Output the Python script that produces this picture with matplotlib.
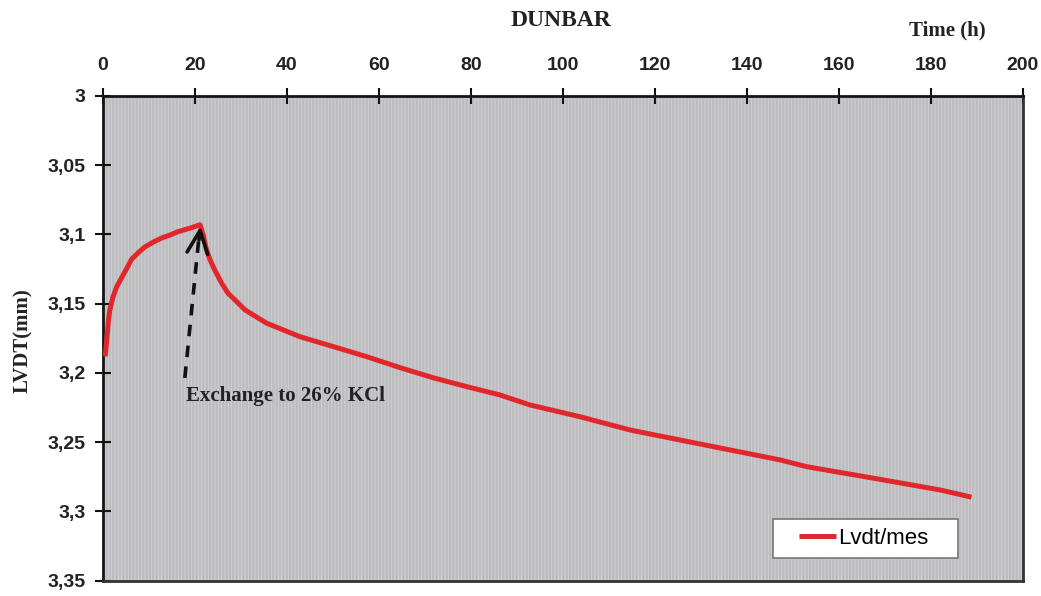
import numpy as np
import matplotlib
matplotlib.use('Agg')
import matplotlib.pyplot as plt
from matplotlib.patches import Rectangle
from matplotlib.legend_handler import HandlerLine2D

# data (time in h, LVDT in mm)
time_h = [0.5, 1.2, 1.5, 2.2, 3.0, 4.1, 5.2, 6.2, 7.7, 9.1, 10.9, 12.8, 14.6,
          16.3, 18.9, 21.1,
          21.8, 22.5, 23.3, 24.3, 25.8, 27.2, 28.7, 30.9, 32.3, 35.6, 42.8,
          50.1, 57.3, 64.6, 71.8, 79.1, 86.3, 92.8, 103.7, 114.6, 125.4,
          136.3, 147.2, 153.0, 167.5, 182.0, 188.8]
lvdt_mm = [3.188, 3.162, 3.1545, 3.145, 3.1377, 3.131, 3.1244, 3.118, 3.1131,
           3.109, 3.1056, 3.1025, 3.1004, 3.098, 3.0955, 3.093,
           3.1004, 3.111, 3.1184, 3.1256, 3.1352, 3.1425, 3.1473, 3.1545,
           3.1574, 3.1641, 3.1738,
           3.181, 3.1882, 3.1962, 3.2035, 3.2099, 3.2159, 3.2231, 3.2316,
           3.2412, 3.2484, 3.2556, 3.2628, 3.2677, 3.276, 3.2845, 3.2897]

x_ticks = [0, 20, 40, 60, 80, 100, 120, 140, 160, 180, 200]
y_ticks = [3.0, 3.05, 3.1, 3.15, 3.2, 3.25, 3.3, 3.35]
y_labels = ['3', '3,05', '3,1', '3,15', '3,2', '3,25', '3,3', '3,35']

serif = 'Liberation Serif'
sans = 'Liberation Sans'

matplotlib.rcParams['hatch.linewidth'] = 0.6

fig = plt.figure(figsize=(10.41, 5.96), dpi=100)
ax = fig.add_axes([0.0989, 0.0257, 0.8838, 0.8133])

# grey striped background
ax.set_facecolor('#bdbdc1')
ax.add_patch(Rectangle((0, 0), 1, 1, transform=ax.transAxes, facecolor='none',
                       edgecolor='#d3d3d6', hatch='|||||', lw=0, zorder=0))

line, = ax.plot(time_h, lvdt_mm, color='#e0282c', lw=3.6, label='Lvdt/mes',
                solid_capstyle='butt', solid_joinstyle='round', zorder=3)

ax.set_xlim(0, 200)
ax.set_ylim(3.35, 3.0)
ax.xaxis.tick_top()
ax.set_xticks(x_ticks)
ax.set_yticks(y_ticks)
ax.set_yticklabels(y_labels)
ax.tick_params(axis='both', direction='inout', length=11, width=1.5, colors='#111111')
ax.tick_params(axis='x', pad=10)
ax.tick_params(axis='y', pad=7)
for lab in ax.get_xticklabels() + ax.get_yticklabels():
    lab.set_fontfamily(sans)
    lab.set_fontweight('bold')
    lab.set_fontsize(14)
    lab.set_color('#222222')

for side in ['top', 'left']:
    ax.spines[side].set_linewidth(2.0)
    ax.spines[side].set_color('#151515')
for side in ['right', 'bottom']:
    ax.spines[side].set_linewidth(2.0)
    ax.spines[side].set_color('#333333')

fig.text(0.539, 0.965, 'DUNBAR', family=serif, weight='bold', fontsize=17,
         ha='center', va='center', color='#222222')
fig.text(0.91, 0.949, 'Time (h)', family=serif, weight='bold', fontsize=15,
         ha='center', va='center', color='#222222')
fig.text(0.022, 0.428, 'LVDT(mm)', family=serif, weight='bold', fontsize=15,
         rotation=90, ha='center', va='center', color='#222222')

# exchange annotation: dashed shaft + open head
ax.plot([17.8, 20.9], [3.2036, 3.101], color='#111111', lw=2.6,
        ls=(0, (3.2, 2.6)), zorder=4)
ax.annotate('', xy=(21.3, 3.092), xytext=(20.8, 3.106),
            arrowprops=dict(arrowstyle='->, head_length=0.55, head_width=0.25',
                            lw=2.6, color='#111111', mutation_scale=30),
            zorder=5)
ax.text(18.0, 3.2166, 'Exchange to 26% KCl', family=serif, weight='bold',
        fontsize=15, ha='left', va='center', color='#222222', zorder=5)

leg = ax.legend(handles=[line], loc='lower left',
                bbox_to_anchor=(0.728, 0.047, 0.201, 0.082), mode='expand',
                fancybox=False, framealpha=1, edgecolor='#777777',
                prop={'family': sans, 'size': 16}, handlelength=2.45,
                handletextpad=0.1, borderaxespad=0,
                handler_map={line: HandlerLine2D(xpad=0.8)})
leg.get_frame().set_linewidth(1.2)

fig.savefig('out.png', dpi=100)
